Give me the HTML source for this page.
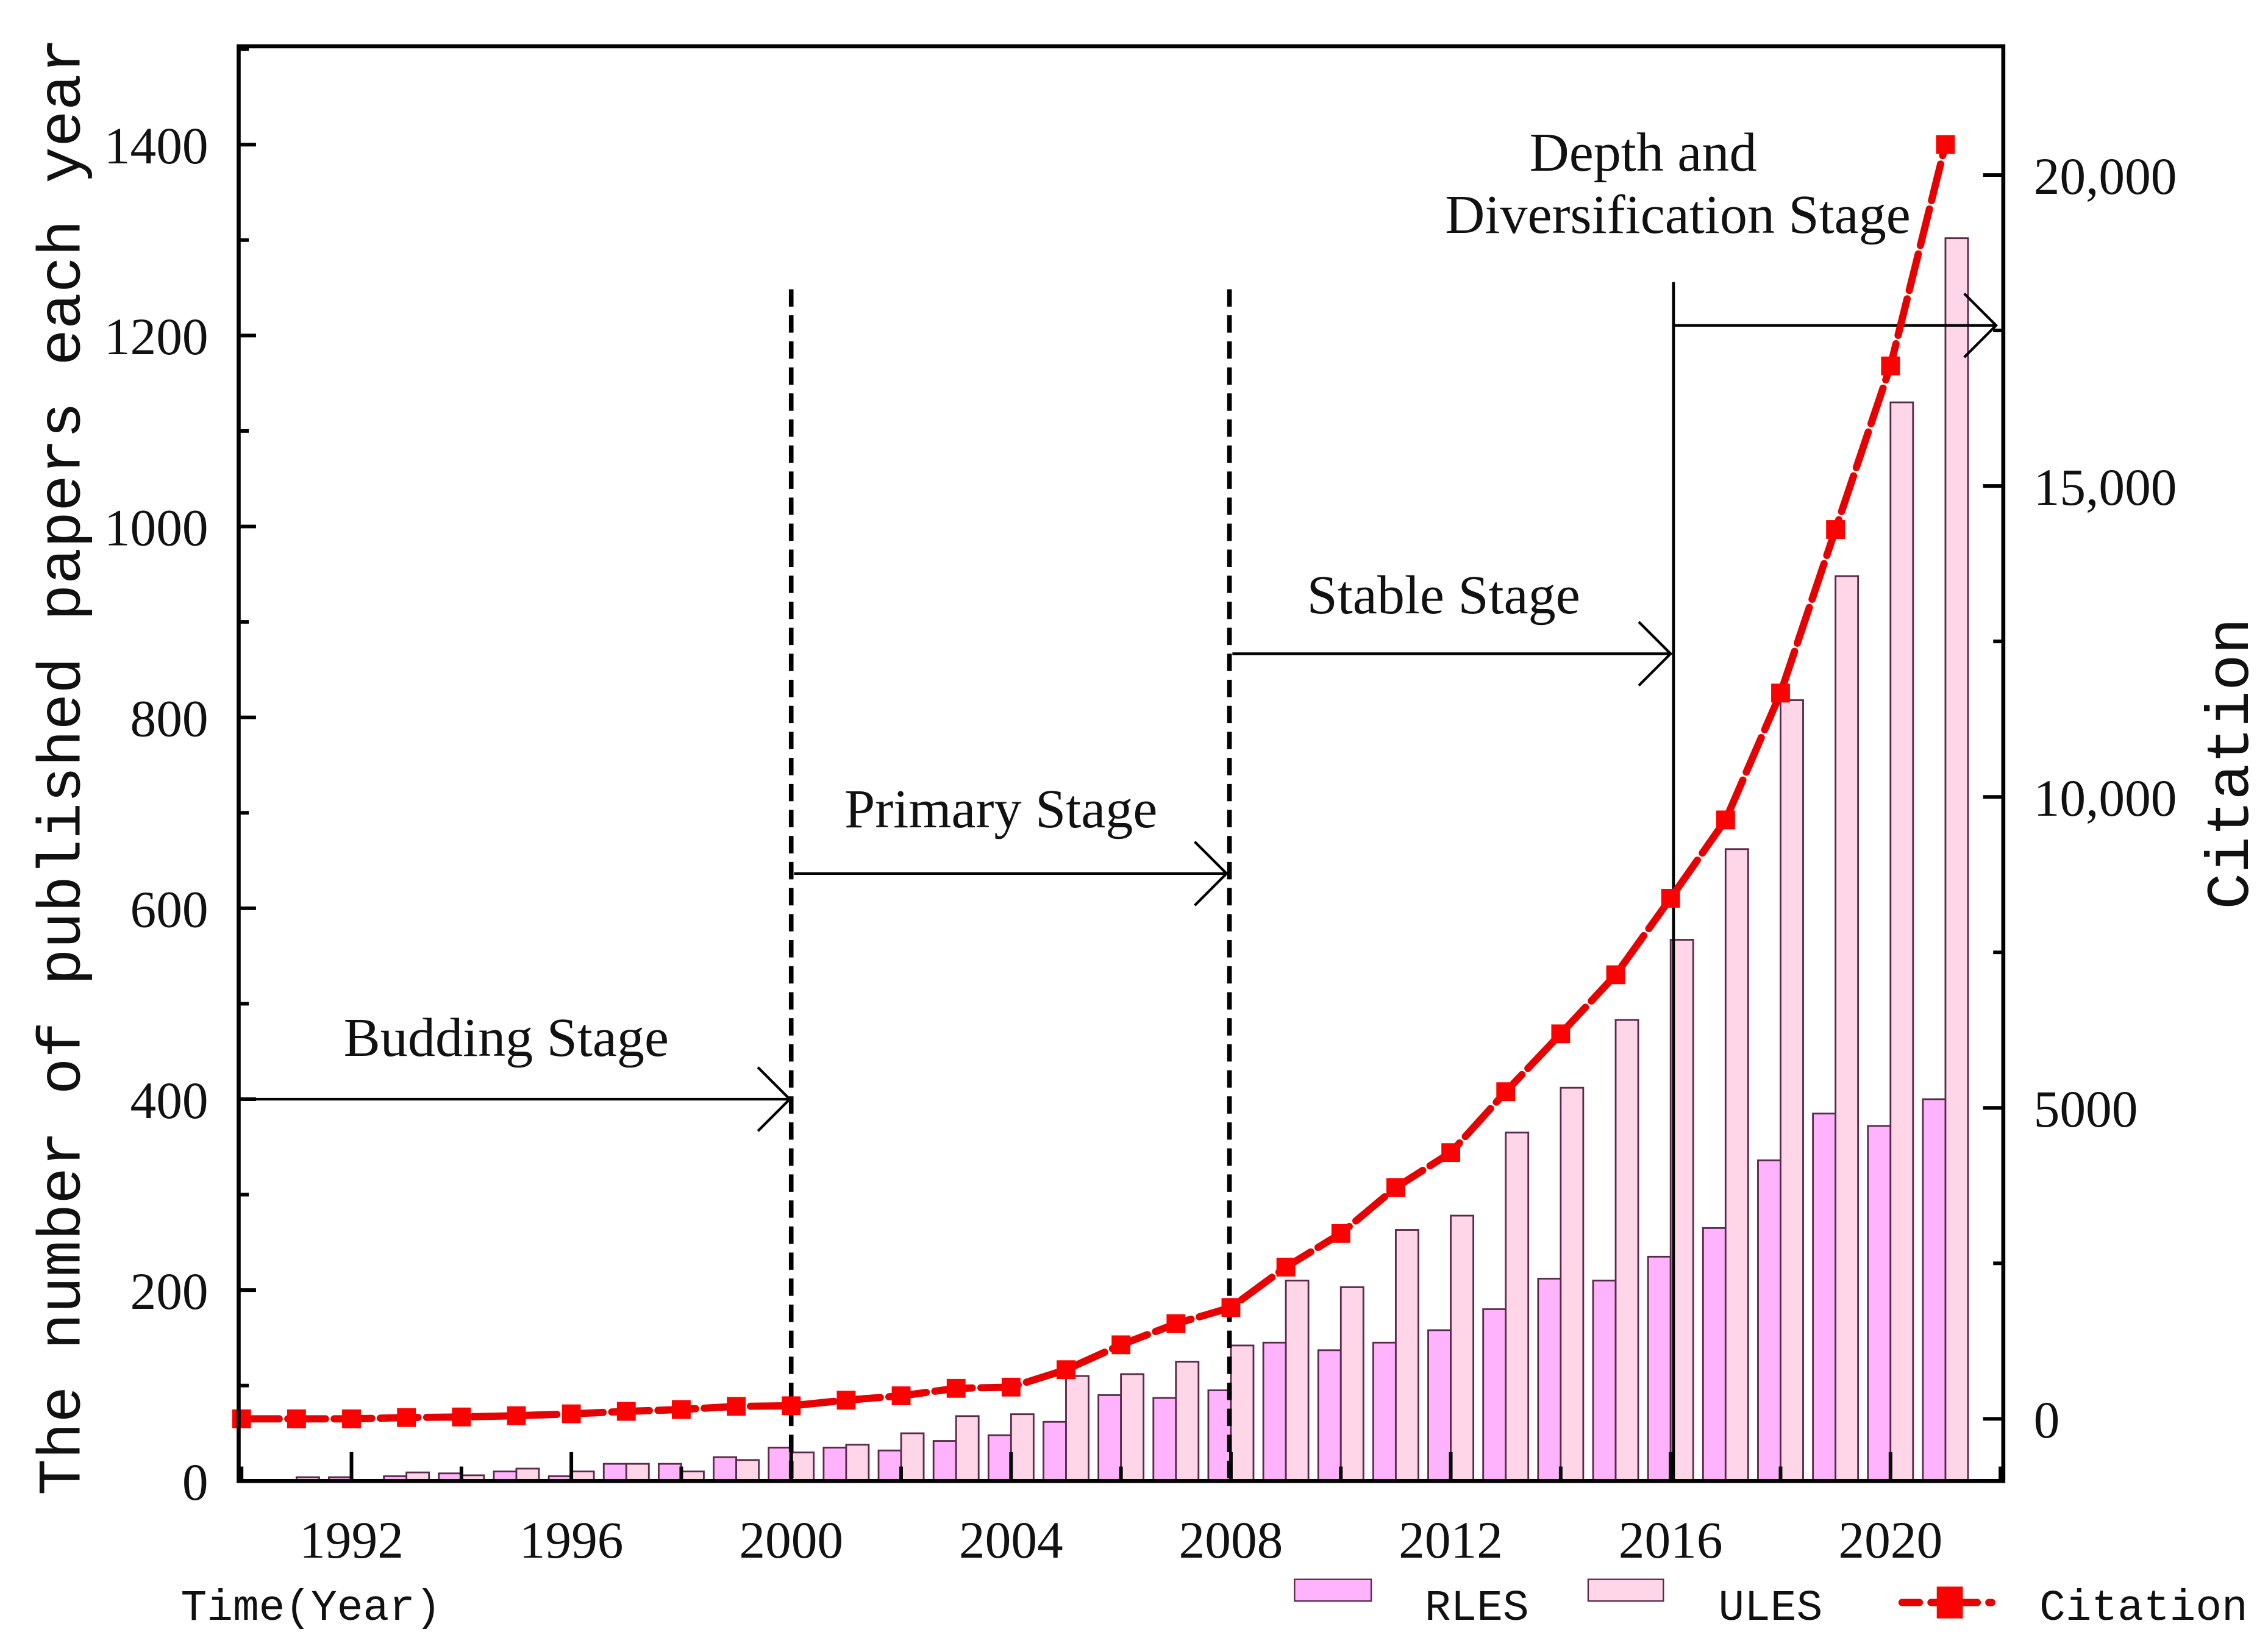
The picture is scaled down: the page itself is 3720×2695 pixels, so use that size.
<!DOCTYPE html>
<html><head><meta charset="utf-8"><style>
html,body{margin:0;padding:0;background:#fff}
svg{display:block}
text{font-family:"Liberation Serif",serif;fill:#111}
.mono{font-family:"Liberation Mono",monospace}
</style></head><body>
<svg id="chart" width="3720" height="2695" viewBox="0 0 1568 1136" preserveAspectRatio="none" xmlns="http://www.w3.org/2000/svg">
<g id="bars"></g>
<g id="annot"></g>
<g id="line"></g>
<g id="axes"></g>
</svg>
<script>
const years=[1991,1992,1993,1994,1995,1996,1997,1998,1999,2000,2001,2002,2003,2004,2005,2006,2007,2008,2009,2010,2011,2012,2013,2014,2015,2016,2017,2018,2019,2020,2021];
const rles=[1,4,5,8,10,5,18,18,25,35,35,32,42,48,62,90,87,95,145,137,145,158,180,212,210,235,265,336,385,372,400];
const ules=[4,1,9,6,13,10,18,10,22,30,38,50,68,70,110,112,125,142,210,203,263,278,365,412,483,567,662,818,948,1130,1302];
const citeYears=[1990,1991,1992,1993,1994,1995,1996,1997,1998,1999,2000,2001,2002,2003,2004,2005,2006,2007,2008,2009,2010,2011,2012,2013,2014,2015,2016,2017,2018,2019,2020,2021];
const citations=[0,0,0,20,30,50,80,120,150,200,210,300,370,490,510,790,1190,1530,1790,2440,2980,3720,4280,5260,6190,7140,8370,9630,11670,14300,16930,20490];
const leftTicks=[0,200,400,600,800,1000,1200,1400];
const rightTicks=[0,5000,10000,15000,20000];
const rightLabels=["0","5000","10,000","15,000","20,000"];
const xTicks=[1992,1996,2000,2004,2008,2012,2016,2020];

const NS="http://www.w3.org/2000/svg";
const L=165,R=1385,T=32,B=1024;
const X=y=>167+(y-1990)*38;
const YL=v=>1024-v*132/200;
const YR=v=>981-v*215/5000;
function mk(p,tag,a,txt){const e=document.createElementNS(NS,tag);for(const k in a)e.setAttribute(k,a[k]);if(txt!=null)e.textContent=txt;p.appendChild(e);return e;}
const gb=document.getElementById('bars'),ga=document.getElementById('annot'),gl=document.getElementById('line'),gx=document.getElementById('axes');
const bw=15.6;
years.forEach((y,i)=>{
  const x=X(y);
  let r=mk(gb,'rect',{x:x-bw,y:YL(rles[i]),width:bw,height:B-YL(rles[i]),fill:'#ffb3fc',stroke:'#5a2a4a','stroke-width':1.2});
  
  
  let u=mk(gb,'rect',{x:x,y:YL(ules[i]),width:bw,height:B-YL(ules[i]),fill:'#ffd5e8',stroke:'#5a2a4a','stroke-width':1.2});
  
  
});
function arrow(x1,x2,y,name){const g=mk(ga,'g',{stroke:'#000','stroke-width':1.8,fill:'none'});
  
  
  mk(g,'line',{x1:x1,y1:y,x2:x2,y2:y});mk(g,'polyline',{points:`${x2-22},${y-22} ${x2},${y} ${x2-22},${y+22}`});}
[[547,'divider-2000'],[850,'divider-2008']].forEach(d=>{const l=mk(ga,'line',{x1:d[0],y1:200,x2:d[0],y2:B,stroke:'#000','stroke-width':3.2,'stroke-dasharray':'12 6'});
  
  });
const sl=mk(ga,'line',{x1:1157,y1:195,x2:1157,y2:B,stroke:'#000','stroke-width':2});


arrow(170,546,760,'budding-arrow');arrow(549,848,604,'primary-arrow');arrow(852,1155,452,'stable-arrow');arrow(1157,1380,225,'depth-arrow');
[['Budding Stage',350,730,'budding-label'],['Primary Stage',692,572,'primary-label'],['Stable Stage',998,424,'stable-label'],['Depth and',1136,118,'depth-label-1'],['Diversification Stage',1160,161,'depth-label-2']].forEach(t=>{
  const e=mk(ga,'text',{x:t[1],y:t[2],'text-anchor':'middle','font-size':38},t[0]);
  
  });
const pts=citeYears.map((y,i)=>X(y)+','+YR(citations[i])).join(' ');
const pl=mk(gl,'polyline',{points:pts,fill:'none',stroke:'#e60000','stroke-width':5,'stroke-dasharray':'26 6','stroke-linecap':'round'});


citeYears.forEach((y,i)=>{const m=mk(gl,'rect',{x:X(y)-6.5,y:YR(citations[i])-6.5,width:13,height:13,fill:'#ff0000'});
  
  });
const fr=mk(gx,'rect',{x:L,y:T,width:R-L,height:B-T,fill:'none',stroke:'#000','stroke-width':2.8});


for(let v=0;v<=1500;v+=100){const y=YL(v);if(y<T)break;mk(gx,'line',{x1:L,y1:y,x2:L+(v%200?7:12),y2:y,stroke:'#000','stroke-width':2.5});}
leftTicks.forEach(v=>{const e=mk(gx,'text',{x:144,y:YL(v)+13,'text-anchor':'end','font-size':36},String(v));
  
  });
for(let v=0;v<=22500;v+=2500){const y=YR(v);if(y<T)break;mk(gx,'line',{x1:R,y1:y,x2:R-(v%5000?7:14),y2:y,stroke:'#000','stroke-width':2.5});}
rightTicks.forEach((v,i)=>{const e=mk(gx,'text',{x:1406,y:YR(v)+13,'font-size':36},rightLabels[i]);
  
  });
for(let y=1990;y<=2022;y+=2){mk(gx,'line',{x1:X(y),y1:B,x2:X(y),y2:B-(y%4?10:20),stroke:'#000','stroke-width':2.5});}
xTicks.forEach(y=>{const e=mk(gx,'text',{x:X(y),y:1077,'text-anchor':'middle','font-size':36},String(y));
  
  });
let e;
e=mk(gx,'text',{x:0,y:0,class:'mono','font-size':42,transform:'translate(55,530) rotate(-90)','text-anchor':'middle','fill':'#222'},'The number of published papers each year');


e=mk(gx,'text',{x:0,y:0,class:'mono','font-size':42,transform:'translate(1554,528) rotate(-90)','text-anchor':'middle','fill':'#222'},'Citation');


e=mk(gx,'text',{x:125,y:1120,class:'mono','font-size':30},'Time(Year)');


const lg=mk(gx,'g',{});


mk(lg,'rect',{x:895,y:1092,width:53,height:15,fill:'#ffb3fc',stroke:'#5a2a4a','stroke-width':1});
mk(lg,'text',{x:985,y:1120,class:'mono','font-size':30},'RLES');
mk(lg,'rect',{x:1098,y:1092,width:52,height:15,fill:'#ffd5e8',stroke:'#5a2a4a','stroke-width':1});
mk(lg,'text',{x:1188,y:1120,class:'mono','font-size':30},'ULES');
mk(lg,'line',{x1:1315,y1:1108,x2:1377,y2:1108,stroke:'#e60000','stroke-width':5,'stroke-dasharray':'12 8','stroke-linecap':'round'});
mk(lg,'rect',{x:1339,y:1097,width:18,height:22,fill:'#ff0000'});
mk(lg,'text',{x:1410,y:1120,class:'mono','font-size':30},'Citation');
</script>
</body></html>
